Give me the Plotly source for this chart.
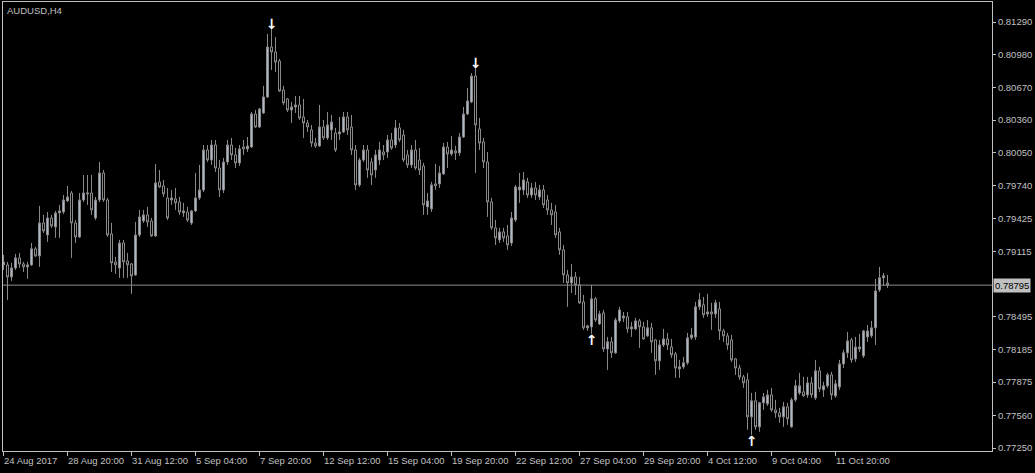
import plotly.graph_objects as go

# ---- data (AUDUSD H4, bar index 0..221) ----
opens = [
0.78987,0.78987,0.78873,0.78958,0.79053,0.78996,0.78968,0.78987,0.79139,0.79072,
0.79385,0.79271,0.79432,0.79347,0.79480,0.79489,0.79594,0.79669,0.79385,0.79252,
0.79603,0.79660,0.79669,0.79432,0.79603,0.79859,0.79603,0.79281,0.79015,0.78958,
0.79195,0.79025,0.78996,0.78892,0.79271,0.79404,0.79461,0.79404,0.79262,0.79774,
0.79736,0.79622,0.79603,0.79613,0.79584,0.79480,0.79489,0.79385,0.79499,0.79622,
0.79698,0.80077,0.79982,0.80124,0.79906,0.79698,0.79963,0.80124,0.80030,0.79954,
0.80105,0.80087,0.80105,0.80418,0.80295,0.80428,0.80579,0.81053,0.81006,0.80921,
0.80646,0.80561,0.80456,0.80485,0.80504,0.80390,0.80333,0.80267,0.80143,0.80115,
0.80295,0.80191,0.80267,0.80238,0.80229,0.80248,0.80390,0.80295,0.80077,0.79745,
0.79982,0.80077,0.79963,0.79887,0.79982,0.80058,0.80058,0.80172,0.80124,0.80286,
0.80219,0.80030,0.79935,0.80077,0.79982,0.79925,0.79537,0.79518,0.79755,0.79755,
0.79850,0.80105,0.80039,0.80068,0.80049,0.80200,0.80418,0.80532,0.80778,0.80276,
0.80153,0.79963,0.79584,0.79338,0.79224,0.79300,0.79262,0.79195,0.79413,0.79698,
0.79698,0.79774,0.79650,0.79717,0.79631,0.79698,0.79603,0.79508,0.79489,0.79300,
0.79129,0.78892,0.78816,0.78873,0.78797,0.78636,0.78390,0.78399,0.78665,0.78427,
0.78532,0.78190,0.78257,0.78153,0.78456,0.78484,0.78494,0.78380,0.78380,0.78456,
0.78399,0.78314,0.78390,0.78276,0.78077,0.78228,0.78285,0.78209,0.78143,0.78001,
0.78020,0.78058,0.78295,0.78304,0.78589,0.78608,0.78522,0.78541,0.78522,0.78570,
0.78361,0.78314,0.78276,0.78096,0.78010,0.77925,0.77897,0.77546,0.77698,0.77451,
0.77679,0.77669,0.77754,0.77612,0.77584,0.77546,0.77641,0.77451,0.77707,0.77773,
0.77783,0.77754,0.77868,0.77726,0.77982,0.77802,0.77840,0.77944,0.77745,0.77830,
0.78048,0.78153,0.78276,0.78096,0.78190,0.78124,0.78304,0.78314,0.78390,0.78750,
0.78864,0.78816]
highs = [
0.79082,0.79015,0.79006,0.79091,0.79101,0.79015,0.79015,0.79195,0.79157,0.79546,
0.79461,0.79489,0.79461,0.79499,0.79556,0.79650,0.79736,0.79688,0.79413,0.79669,
0.79840,0.79840,0.79840,0.79631,0.79963,0.79887,0.79622,0.79385,0.79063,0.79224,
0.79224,0.79101,0.79006,0.79394,0.79508,0.79508,0.79537,0.79432,0.79944,0.79887,
0.79793,0.79717,0.79698,0.79717,0.79631,0.79575,0.79537,0.79508,0.79859,0.79935,
0.80124,0.80124,0.80172,0.80172,0.79982,0.80001,0.80172,0.80191,0.80096,0.80124,
0.80172,0.80200,0.80437,0.80456,0.80475,0.80684,0.81177,0.81234,0.81148,0.80940,
0.80684,0.80570,0.80532,0.80589,0.80589,0.80561,0.80361,0.80314,0.80191,0.80504,
0.80361,0.80437,0.80409,0.80286,0.80390,0.80437,0.80437,0.80409,0.80124,0.80001,
0.80124,0.80124,0.80001,0.80077,0.80153,0.80124,0.80219,0.80238,0.80361,0.80333,
0.80267,0.80077,0.80124,0.80172,0.80096,0.79954,0.79669,0.79774,0.79944,0.79925,
0.80143,0.80153,0.80210,0.80115,0.80238,0.80485,0.80665,0.80807,0.80864,0.80380,
0.80191,0.80058,0.79622,0.79413,0.79338,0.79338,0.79366,0.79489,0.79745,0.79859,
0.79868,0.79812,0.79764,0.79774,0.79745,0.79745,0.79650,0.79575,0.79556,0.79338,
0.79176,0.78939,0.78996,0.78920,0.78873,0.78702,0.78418,0.78797,0.78683,0.78551,
0.78560,0.78304,0.78304,0.78484,0.78589,0.78541,0.78541,0.78446,0.78484,0.78475,
0.78446,0.78465,0.78437,0.78285,0.78276,0.78380,0.78342,0.78285,0.78162,0.78086,
0.78115,0.78342,0.78390,0.78636,0.78721,0.78683,0.78712,0.78627,0.78655,0.78636,
0.78380,0.78342,0.78323,0.78105,0.78039,0.77944,0.77963,0.77773,0.77783,0.77688,
0.77773,0.77802,0.77821,0.77707,0.77631,0.77688,0.77679,0.77726,0.77897,0.77963,
0.77925,0.77925,0.77925,0.78086,0.78020,0.77878,0.77963,0.77972,0.77897,0.78086,
0.78181,0.78352,0.78295,0.78304,0.78333,0.78371,0.78418,0.78456,0.78854,0.78968,
0.78911,0.78892]
lows = [
0.78939,0.78655,0.78835,0.78939,0.78958,0.78920,0.78854,0.78977,0.79063,0.78968,
0.79290,0.79205,0.79338,0.79243,0.79243,0.79470,0.79584,0.79053,0.79195,0.79243,
0.79584,0.79556,0.79461,0.79413,0.79584,0.79584,0.79252,0.78920,0.78902,0.78864,
0.78864,0.78864,0.78712,0.78883,0.79252,0.79385,0.79347,0.79252,0.79252,0.79717,
0.79631,0.79413,0.79556,0.79508,0.79461,0.79442,0.79394,0.79366,0.79489,0.79603,
0.79679,0.79963,0.79935,0.79868,0.79631,0.79669,0.79935,0.79982,0.79906,0.79925,
0.80030,0.80058,0.80096,0.80286,0.80286,0.80418,0.80570,0.80835,0.80816,0.80627,
0.80504,0.80437,0.80333,0.80428,0.80361,0.80191,0.80248,0.80105,0.80096,0.80105,
0.80172,0.80172,0.80172,0.80058,0.80172,0.80238,0.80219,0.80030,0.79698,0.79726,
0.79963,0.79812,0.79745,0.79812,0.79935,0.79982,0.80001,0.80077,0.80096,0.80153,
0.79963,0.79906,0.79906,0.79887,0.79840,0.79461,0.79461,0.79489,0.79698,0.79717,
0.79840,0.79906,0.80020,0.79982,0.80020,0.80191,0.80409,0.80523,0.79859,0.80077,
0.79906,0.79442,0.79319,0.79176,0.79195,0.79205,0.79129,0.79167,0.79394,0.79575,
0.79650,0.79622,0.79622,0.79603,0.79603,0.79527,0.79461,0.79366,0.79243,0.79082,
0.78816,0.78589,0.78721,0.78702,0.78617,0.78371,0.78361,0.78333,0.78446,0.78418,
0.78162,0.77991,0.78105,0.78143,0.78437,0.78446,0.78342,0.78304,0.78371,0.78200,
0.78276,0.78304,0.78153,0.77944,0.77991,0.78209,0.78181,0.78105,0.77916,0.77916,
0.78001,0.78039,0.78276,0.78276,0.78560,0.78484,0.78494,0.78371,0.78484,0.78276,
0.78257,0.78181,0.78067,0.77944,0.77897,0.77821,0.77423,0.77375,0.77423,0.77404,
0.77612,0.77650,0.77593,0.77536,0.77489,0.77451,0.77470,0.77442,0.77688,0.77754,
0.77735,0.77726,0.77726,0.77707,0.77783,0.77735,0.77821,0.77707,0.77726,0.77802,
0.78010,0.78105,0.78058,0.78067,0.78162,0.78105,0.78257,0.78295,0.78228,0.78731,
0.78788,0.78769]
closes = [
0.79015,0.78873,0.78958,0.79053,0.78996,0.78968,0.78987,0.79139,0.79072,0.79385,
0.79309,0.79432,0.79357,0.79480,0.79499,0.79603,0.79631,0.79385,0.79252,0.79603,
0.79669,0.79669,0.79508,0.79603,0.79859,0.79603,0.79271,0.79006,0.78987,0.79195,
0.79015,0.78987,0.78883,0.79271,0.79442,0.79461,0.79394,0.79262,0.79764,0.79726,
0.79660,0.79432,0.79622,0.79575,0.79489,0.79499,0.79413,0.79499,0.79622,0.79698,
0.80077,0.79982,0.80124,0.79906,0.79698,0.79963,0.80124,0.80030,0.79954,0.80087,
0.80087,0.80115,0.80418,0.80295,0.80466,0.80579,0.81053,0.81006,0.80911,0.80636,
0.80523,0.80456,0.80485,0.80504,0.80380,0.80333,0.80295,0.80143,0.80115,0.80295,
0.80191,0.80314,0.80342,0.80077,0.80248,0.80390,0.80267,0.80077,0.79745,0.79982,
0.80077,0.79887,0.79840,0.80030,0.80077,0.80030,0.80172,0.80096,0.80286,0.80172,
0.79982,0.79935,0.80077,0.79906,0.79887,0.79556,0.79594,0.79745,0.79736,0.79859,
0.80105,0.80039,0.80077,0.80049,0.80200,0.80418,0.80542,0.80778,0.80314,0.80143,
0.79963,0.79584,0.79338,0.79243,0.79300,0.79243,0.79176,0.79432,0.79726,0.79726,
0.79793,0.79650,0.79717,0.79650,0.79698,0.79556,0.79508,0.79461,0.79271,0.79129,
0.78892,0.78816,0.78873,0.78797,0.78627,0.78390,0.78409,0.78665,0.78465,0.78522,
0.78190,0.78257,0.78153,0.78465,0.78560,0.78503,0.78380,0.78399,0.78456,0.78399,
0.78285,0.78390,0.78257,0.78077,0.78228,0.78285,0.78228,0.78134,0.78010,0.78020,
0.78058,0.78295,0.78323,0.78589,0.78655,0.78513,0.78541,0.78522,0.78627,0.78361,
0.78314,0.78228,0.78086,0.78010,0.77925,0.77868,0.77546,0.77698,0.77451,0.77679,
0.77735,0.77754,0.77612,0.77584,0.77546,0.77641,0.77527,0.77707,0.77840,0.77840,
0.77745,0.77868,0.77754,0.77982,0.77811,0.77840,0.77944,0.77754,0.77859,0.78048,
0.78153,0.78266,0.78086,0.78209,0.78209,0.78361,0.78361,0.78390,0.78740,0.78864,
0.78883,0.78795]

date_labels = ["24 Aug 2017", "28 Aug 20:00", "31 Aug 12:00", "5 Sep 04:00",
               "7 Sep 20:00", "12 Sep 12:00", "15 Sep 04:00", "19 Sep 20:00",
               "22 Sep 12:00", "27 Sep 04:00", "29 Sep 20:00", "4 Oct 12:00",
               "9 Oct 04:00", "11 Oct 20:00"]
date_label_bars = [0, 16, 32, 48, 64, 80, 96, 112, 128, 144, 160, 176, 192, 208]

price_ticks = [0.81290, 0.80980, 0.80670, 0.80360, 0.80050, 0.79740, 0.79425,
               0.79115, 0.78495, 0.78185, 0.77875, 0.77560, 0.77250]
last_price = 0.78795

fractal_up_bars = [67, 118]
fractal_down_bars = [147, 187]

symbol_title = "AUDUSD,H4"

# ---- figure ----
bars = list(range(len(opens)))
FG = "#c0c0c0"
FONT = "Liberation Sans"

fig = go.Figure()
fig.add_trace(go.Candlestick(
    x=bars, open=opens, high=highs, low=lows, close=closes,
    increasing=dict(line=dict(color="#8a8a8a", width=1), fillcolor="#aeb8c8"),
    decreasing=dict(line=dict(color="#8a8a8a", width=1), fillcolor="#000000"),
    whiskerwidth=0, hoverinfo="skip", showlegend=False,
))

arrow_font = dict(family="DejaVu Sans", size=14, color="white", weight="bold")
fig.add_trace(go.Scatter(
    x=fractal_up_bars, y=[highs[i] + 0.0002 for i in fractal_up_bars],
    mode="text", text=["↓"] * len(fractal_up_bars), textfont=arrow_font,
    textposition="middle center", hoverinfo="skip", showlegend=False,
))
fig.add_trace(go.Scatter(
    x=fractal_down_bars, y=[lows[i] - 0.0007 for i in fractal_down_bars],
    mode="text", text=["↑"] * len(fractal_down_bars), textfont=arrow_font,
    textposition="middle center", hoverinfo="skip", showlegend=False,
))

annotations = []
for b, lab in zip(date_label_bars, date_labels):
    annotations.append(dict(
        x=b, xref="x", y=0, yref="paper", text=lab, showarrow=False,
        xanchor="left", yanchor="top", xshift=-2, yshift=-2,
        font=dict(family=FONT, size=9.5, color=FG),
    ))
annotations.append(dict(
    x=0, xref="paper", y=1, yref="paper", text=symbol_title, showarrow=False,
    xanchor="left", yanchor="top", xshift=2, yshift=-1,
    font=dict(family=FONT, size=9.5, color=FG),
))
annotations.append(dict(
    x=1, xref="paper", y=last_price, yref="y", text=f"{last_price:.5f}",
    showarrow=False, xanchor="left", yanchor="middle", xshift=1,
    bgcolor=FG, borderpad=1,
    font=dict(family=FONT, size=9.5, color="black"),
))

fig.update_layout(
    width=1035, height=473,
    margin=dict(l=3, r=43, t=2, b=22),
    paper_bgcolor="black", plot_bgcolor="black",
    showlegend=False, hovermode=False,
    boxgap=0.5, boxgroupgap=0,
    annotations=annotations,
    shapes=[dict(type="line", xref="paper", x0=0, x1=1, yref="y",
                 y0=last_price, y1=last_price,
                 line=dict(color="#8c8c8c", width=1))],
    xaxis=dict(
        range=[-0.125, 247.125], rangeslider=dict(visible=False),
        showgrid=False, zeroline=False, showline=True, mirror=True,
        linecolor=FG, linewidth=1, ticks="outside", ticklen=4, tickcolor=FG,
        tickvals=date_label_bars, showticklabels=False, fixedrange=True,
    ),
    yaxis=dict(
        side="right", range=[0.77222, 0.81480], automargin=False,
        showgrid=False, zeroline=False, showline=True, mirror=True,
        linecolor=FG, linewidth=1, ticks="outside", ticklen=3, tickcolor=FG,
        tickvals=price_ticks, ticktext=[f"{v:.5f}" for v in price_ticks],
        tickfont=dict(family=FONT, size=9.5, color=FG), fixedrange=True,
    ),
)

fig.write_html(
    "out.html",
    config={"displayModeBar": False, "staticPlot": True},
    post_script="document.body.style.margin='0';document.body.style.overflow='hidden';",
)
